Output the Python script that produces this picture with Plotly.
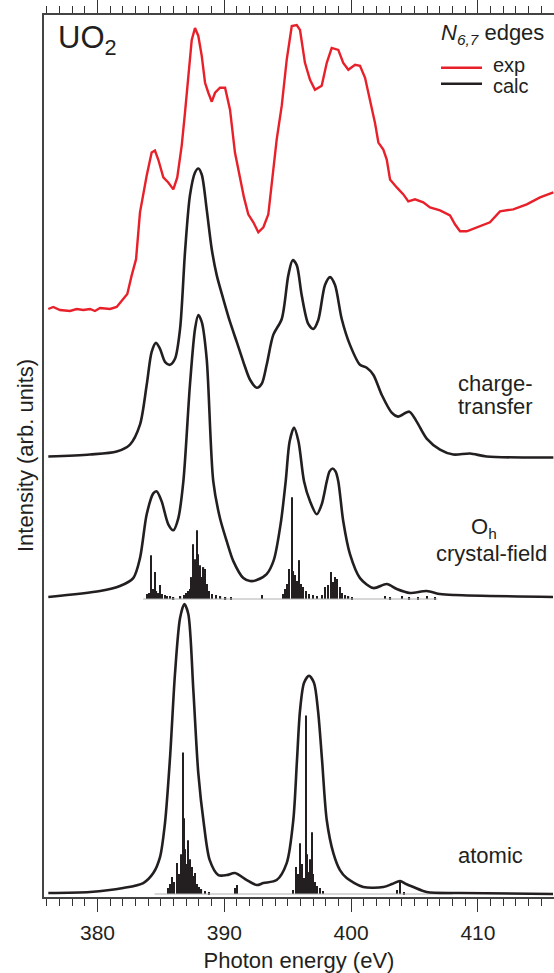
import plotly.graph_objects as go

# ---------------- data (photon energy in eV, intensity in arb. units incl. vertical offsets) ----
exp_E = [376.12, 376.51, 377.04, 377.83, 378.36, 378.88, 379.41, 379.80, 380.20, 380.99, 381.51, 381.77, 382.03, 382.35,
         382.70, 383.04, 383.35, 383.88, 384.27, 384.53, 384.79, 385.19, 385.58, 385.98,
         386.29, 386.64, 386.90, 387.16, 387.43, 387.69, 387.95, 388.22, 388.48, 388.74,
         389.01, 389.27, 389.66, 390.06, 390.45, 390.84, 391.24, 391.55, 391.89, 392.29,
         392.68, 393.08, 393.47, 393.86,
         394.13, 394.53, 394.92, 395.32, 395.71, 395.97,
         396.36, 396.76, 397.15, 397.68, 398.08, 398.47, 398.99, 399.38, 399.78, 400.31,
         400.70, 401.10, 401.49, 401.88, 402.15, 402.54, 402.81, 403.07, 403.60, 404.12,
         404.51, 405.04, 405.69, 406.22, 407.01, 407.80, 408.19, 408.59, 409.12, 409.91,
         410.95, 411.74, 412.79, 413.85, 414.90, 415.95]
exp_I = [590, 592, 589, 588, 590, 589, 590, 588, 591, 590, 592, 596, 599, 605,
         624, 640, 687, 724, 747, 749, 740, 722, 717, 710,
         722, 754, 787, 827, 860, 872, 864, 844, 817, 807,
         798, 807, 812, 812, 790, 747, 720, 702, 685, 677,
         667, 672, 685, 727,
         760, 794, 840, 874, 875, 870,
         837, 820, 810, 814, 837, 852, 850, 837, 830, 835,
         834, 822, 800, 777, 757, 750, 740, 720, 712, 705,
         698, 700, 697, 692, 689, 684, 675, 668, 668, 672,
         677, 688, 690, 695, 702, 707]

ct_E = [376.12, 379.41, 381.51, 382.56, 383.35, 383.88, 384.27, 384.61, 384.93, 385.32, 385.72, 386.11, 386.51,
        386.90, 387.29, 387.69, 387.95, 388.22, 388.61, 389.01, 389.40, 389.92, 390.45, 390.98, 391.50, 392.03,
        392.56, 392.95, 393.34, 393.86, 394.53, 395.05, 395.39, 395.71, 396.10, 396.62, 397.02, 397.41, 397.94,
        398.34, 398.73, 399.26, 399.91, 400.70, 401.23, 401.75, 402.41, 403.20, 403.70, 404.59, 405.17, 405.96,
        407.01, 408.06, 409.38, 410.69, 415.95]
ct_I = [442, 444, 447, 454, 474, 514, 547, 556, 550, 537, 534, 540, 570,
        647, 704, 727, 731, 725, 690, 650, 624, 600, 577, 557, 537, 519,
        511, 515, 534, 564, 580, 624, 639, 634, 604, 575, 570, 579, 614,
        622, 614, 580, 554, 534, 531, 524, 504, 486, 482, 487, 477, 460,
        449, 444, 445, 442, 441]

oh_E = [376.12, 380.20, 381.77, 382.82, 383.35, 383.88, 384.40, 384.67, 385.06, 385.58, 385.98, 386.37, 386.77,
        387.29, 387.69, 387.95, 388.22, 388.61, 389.13, 389.66, 390.19, 390.71, 391.50, 392.03, 392.56, 393.34,
        393.90, 394.45, 394.84, 395.15, 395.50, 395.85, 396.29, 396.76, 397.29, 397.68, 398.08, 398.30, 398.54,
        398.77, 398.99, 399.38, 399.91, 400.70, 401.75, 402.81, 403.60, 404.64, 405.96, 407.01, 408.19, 415.92]
oh_I = [301, 307, 312, 320, 340, 384, 405, 407, 397, 374, 368, 380, 417,
        514, 570, 584, 577, 540, 417, 380, 357, 337, 320, 317, 318, 324,
        338, 375, 417, 457, 471, 457, 417, 397, 384, 394, 417, 427, 430,
        427, 417, 377, 344, 320, 310, 314, 309, 305, 307, 304, 303, 301]

at_E = [376.12, 379.41, 382.03, 383.61, 384.40, 384.93, 385.32, 385.72, 386.11, 386.51, 386.85, 387.16, 387.56,
        387.95, 388.40, 388.85, 389.53, 390.19, 390.84, 391.77, 392.56, 393.08, 394.13, 394.92, 395.44, 395.73,
        395.97, 396.29, 396.68, 397.07, 397.39, 397.71, 398.08, 398.60, 399.12, 399.65, 400.96, 402.54, 403.23,
        403.86, 404.33, 404.91, 405.96, 408.59, 415.92]
at_I = [4, 5, 9, 14, 24, 40, 74, 140, 224, 280, 294, 284, 207,
        124, 72, 37, 22, 22, 24, 17, 12, 14, 17, 34, 77, 137,
        187, 215, 222, 215, 187, 137, 77, 44, 27, 19, 10, 10, 13,
        16, 13, 10, 5, 4, 3]

# stick (multiplet) spectra: energies and stick heights
oh_stick_E = [383.90, 384.05, 384.22, 384.35, 384.53, 384.65, 384.80, 384.93, 385.10, 385.30, 385.50, 385.75, 386.00,
              386.55, 386.80, 387.00, 387.14, 387.29, 387.41, 387.56, 387.69, 387.82, 387.93, 388.00, 388.08, 388.24,
              388.36, 388.48, 388.64, 388.79, 389.03, 389.35, 389.70, 390.10, 390.50,
              392.95,
              394.60, 394.79, 394.95, 395.13, 395.32, 395.45, 395.58, 395.72, 395.92, 396.05, 396.23, 396.45, 396.70,
              397.00, 397.30,
              397.70, 397.94, 398.18, 398.41, 398.60, 398.75, 398.91, 399.10, 399.30, 399.55, 399.80, 400.10,
              402.70, 403.10, 404.00, 404.60, 405.30, 406.00, 406.60]
oh_stick_h = [5, 6, 44, 10, 27, 8, 6, 14, 5, 4, 3, 3, 2,
              3, 4, 6, 8, 10, 22, 55, 40, 69, 45, 28, 34, 22,
              32, 30, 15, 8, 5, 4, 3, 2, 2,
              4,
              5, 10, 15, 30, 102, 28, 24, 18, 39, 15, 12, 8, 5,
              4, 3,
              4, 12, 14, 27, 17, 22, 20, 12, 6, 4, 3, 2,
              3, 2, 3, 2, 2, 3, 2]

at_stick_E = [385.55, 385.70, 385.85, 386.05, 386.29, 386.45, 386.60, 386.72, 386.82, 386.93, 387.03, 387.16, 387.28,
              387.43, 387.55, 387.69, 387.85, 388.00, 388.20, 388.50, 388.80,
              390.85, 391.00,
              395.40, 395.63, 395.80, 395.97, 396.12, 396.29, 396.42, 396.55, 396.63, 396.75, 396.89, 397.00, 397.15,
              397.30, 397.55, 397.80,
              403.60, 403.86, 404.20]
at_stick_h = [6, 10, 17, 12, 31, 20, 40, 142, 76, 45, 30, 54, 35,
              27, 18, 21, 10, 7, 5, 3, 2,
              6, 9,
              4, 27, 20, 51, 30, 16, 179, 40, 22, 35, 62, 20, 12,
              8, 6, 3,
              4, 12, 2]

OH_BASE = 299
AT_BASE = 3
oh_base_E = [383.6, 406.8]
at_base_E = [384.5, 408.0]

for a, b in [(exp_E, exp_I), (ct_E, ct_I), (oh_E, oh_I), (at_E, at_I),
             (oh_stick_E, oh_stick_h), (at_stick_E, at_stick_h)]:
    assert len(a) == len(b), (len(a), len(b))

# ---------------- figure ----------------
FONT = "Liberation Sans, Arial, Helvetica, sans-serif"
TXT = "#231f20"
RED = "#e8202a"
BLK = "#231f20"

fig = go.Figure()

fig.add_trace(go.Scatter(x=oh_base_E, y=[OH_BASE, OH_BASE], mode="lines",
                         line=dict(color="#b0b0b0", width=1), hoverinfo="skip", showlegend=False))
fig.add_trace(go.Scatter(x=at_base_E, y=[AT_BASE, AT_BASE], mode="lines",
                         line=dict(color="#b0b0b0", width=1), hoverinfo="skip", showlegend=False))

fig.add_trace(go.Bar(x=oh_stick_E, y=oh_stick_h, base=OH_BASE, width=0.1,
                     marker=dict(color=BLK, line=dict(width=0)), showlegend=False))
fig.add_trace(go.Bar(x=at_stick_E, y=at_stick_h, base=AT_BASE, width=0.1,
                     marker=dict(color=BLK, line=dict(width=0)), showlegend=False))

for xs, ys in [(ct_E, ct_I), (oh_E, oh_I), (at_E, at_I)]:
    fig.add_trace(go.Scatter(x=xs, y=ys, mode="lines",
                             line=dict(color=BLK, width=2.6, shape="spline", smoothing=0.8),
                             showlegend=False))

fig.add_trace(go.Scatter(x=exp_E, y=exp_I, mode="lines",
                         line=dict(color=RED, width=2.4), showlegend=False))

L, R, T, B = 44, 554, 12, 897


def px(xp):
    return (xp - L) / (R - L)


def py(yp):
    return (B - yp) / (B - T)


annos = [
    dict(text="UO<sub>2</sub>", x=px(56), y=py(15), xanchor="left", yanchor="top", size=31),
    dict(text="<i>N</i><sub><i>6,7</i></sub> edges", x=px(546), y=py(15), xanchor="right", yanchor="top", size=22),
    dict(text="exp", x=px(491), y=py(62), xanchor="left", yanchor="middle", size=20),
    dict(text="calc", x=px(491), y=py(83), xanchor="left", yanchor="middle", size=20),
    dict(text="charge-", x=px(495), y=py(382), xanchor="center", yanchor="middle", size=22),
    dict(text="transfer", x=px(495), y=py(405), xanchor="center", yanchor="middle", size=22),
    dict(text="O<sub>h</sub>", x=px(484), y=py(527), xanchor="center", yanchor="middle", size=22),
    dict(text="crystal-field", x=px(491), y=py(552), xanchor="center", yanchor="middle", size=22),
    dict(text="atomic", x=px(490), y=py(855), xanchor="center", yanchor="middle", size=22),
]
for a in annos:
    fig.add_annotation(text=a["text"], x=a["x"], y=a["y"], xref="paper", yref="paper",
                       xanchor=a["xanchor"], yanchor=a["yanchor"], showarrow=False,
                       font=dict(family=FONT, size=a["size"], color=TXT))

fig.add_annotation(text="Intensity (arb. units)", x=px(25), y=0.5, xref="paper", yref="paper",
                   xanchor="center", yanchor="middle", textangle=-90, showarrow=False,
                   font=dict(family=FONT, size=22, color=TXT))

fig.add_shape(type="line", xref="paper", yref="paper", x0=px(441), x1=px(482), y0=py(65), y1=py(65),
              line=dict(color=RED, width=2.6))
fig.add_shape(type="line", xref="paper", yref="paper", x0=px(441), x1=px(482), y0=py(81), y1=py(81),
              line=dict(color=BLK, width=2.6))

fig.update_layout(
    width=554, height=973,
    margin=dict(l=L, r=554 - R, t=T, b=973 - B),
    paper_bgcolor="white", plot_bgcolor="white",
    barmode="overlay", showlegend=False,
    font=dict(family=FONT, color=TXT),
    xaxis=dict(range=[375.78, 416.0], tick0=380, dtick=10, ticks="outside", ticklen=13, tickwidth=1.3,
               tickcolor="#333", showline=True, linecolor="#444", linewidth=1.5, mirror="allticks",
               showgrid=False, zeroline=False, ticklabelstandoff=3,
               tickfont=dict(family=FONT, size=21, color=TXT),
               minor=dict(dtick=1, tick0=376, ticks="outside", ticklen=7, tickwidth=1.2, tickcolor="#333",
                          showgrid=False),
               title=dict(text="Photon energy (eV)", font=dict(family=FONT, size=22, color=TXT), standoff=14)),
    yaxis=dict(range=[0, 885], showline=True, linecolor="#444", linewidth=1.5, mirror=False,
               showticklabels=False, ticks="", showgrid=False, zeroline=False),
)

fig.write_html("out.html", config={"displayModeBar": False},
               post_script="document.body.style.margin='0';document.body.style.overflow='hidden';")
